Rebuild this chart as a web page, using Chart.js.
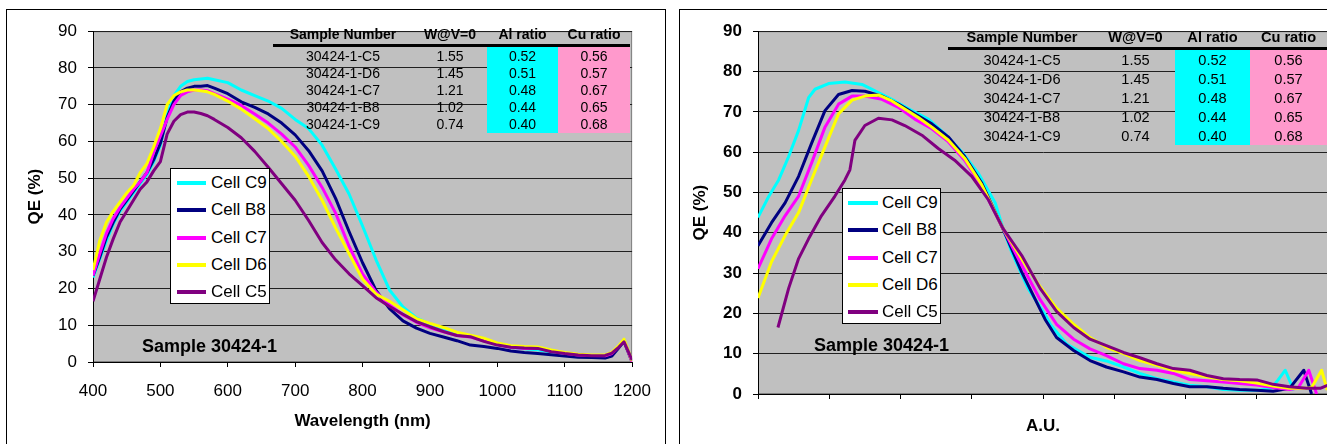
<!DOCTYPE html>
<html>
<head>
<meta charset="utf-8">
<script src="https://cdn.jsdelivr.net/npm/chart.js@4.4.0/dist/chart.umd.min.js"></script>
<style>
    html, body { margin: 0; padding: 0; background: #fff; }
    body { width: 1327px; height: 444px; overflow: hidden; position: relative; font-family: "Liberation Sans", Arial, sans-serif; color: #000; }
    .panel { position: absolute; top: 9px; height: 460px; border: 1px solid #000; box-sizing: border-box; overflow: hidden; background: #fff; }
    .panel canvas { position: absolute; left: 0; top: 0; }
    .leyenda { position: absolute; background: #fff; border: 1px solid #000; box-sizing: border-box; font-size: 17px; }
    .leyenda .item { position: relative; height: 27.3px; line-height: 27.3px; white-space: nowrap; }
    .leyenda .linea { position: absolute; height: 4px; top: 12px; }
    .leyenda .texto { position: absolute; }
    .tabla { position: absolute; display: grid; }
    .tabla div { display: flex; align-items: center; justify-content: center; white-space: nowrap; }
    .tabla .cab { font-weight: bold; }
    .tabla .sep { background: #000; grid-column: 1 / span 4; }
    .tabla .al { background: #00ffff; }
    .tabla .cu { background: #ff99cc; }
    .muestra { position: absolute; font-weight: bold; font-size: 18px; white-space: nowrap; }
</style>
</head>
<body>
<div class="panel" id="panel-izq" style="left:6px; width:660px;"><canvas id="grafica-longitud" width="658" height="440"></canvas></div>
<div class="panel" id="panel-der" style="left:679px; width:700px;"><canvas id="grafica-au" width="680" height="440"></canvas></div>

<div class="tabla" id="tabla-izq" style="left:273px; top:24px; grid-template-columns:140px 74px 71px 72px; grid-template-rows:20px 3px repeat(5, 17.2px); font-size:14px;"></div>
<div class="tabla" id="tabla-der" style="left:948px; top:26px; grid-template-columns:148px 79px 75px 77px; grid-template-rows:21px 3px repeat(5, 19px); font-size:14.6px;"></div>

<div class="leyenda" id="leyenda-izq" style="left:170px; top:168px; width:100px; height:136px;"></div>
<div class="leyenda" id="leyenda-der" style="left:842px; top:188px; width:99px; height:136px;"></div>

<div class="muestra" style="left:142px; top:336px;">Sample 30424-1</div>
<div class="muestra" style="left:814px; top:335px;">Sample 30424-1</div>

<script>
// series (legend order)
const seriesNames = ['Cell C9', 'Cell B8', 'Cell C7', 'Cell D6', 'Cell C5'];
const seriesColors = ['#00ffff', '#000080', '#ff00ff', '#ffff00', '#800080'];

// table next to the plots
const tableHeaders = ['Sample Number', 'W@V=0', 'Al ratio', 'Cu ratio'];
const sampleNumbers = ['30424-1-C5', '30424-1-D6', '30424-1-C7', '30424-1-B8', '30424-1-C9'];
const wAtV0 = ['1.55', '1.45', '1.21', '1.02', '0.74'];
const alRatios = ['0.52', '0.51', '0.48', '0.44', '0.40'];
const cuRatios = ['0.56', '0.57', '0.67', '0.65', '0.68'];

// left chart: QE vs wavelength
const wavelengths = [400, 410, 420, 430, 440, 450, 460, 470, 480, 490, 500, 510, 520, 530, 540, 550, 560, 570, 580,
    600, 620, 640, 660, 680, 700, 720, 740, 760, 780, 800, 820, 840, 860, 880, 900, 920, 940, 960, 980, 1000,
    1020, 1040, 1060, 1080, 1100, 1120, 1140, 1160, 1170, 1180, 1188, 1200];
const qeC9 = [23, 28, 33, 37.5, 41, 43.5, 46, 48.5, 51, 54.5, 59, 67, 72.5, 75, 76.3, 76.8, 77, 77.2, 76.8,
    76, 74, 72.5, 71, 69, 66, 63.5, 59, 52.5, 45.7, 37, 27.8, 19.6, 15, 12, 10.3, 9, 7.8, 7, 6, 4.8,
    4, 3.6, 3.3, 2.7, 2.2, 1.8, 1.5, 1.4, 2, 4, 5.8, 0.3];
const qeB8 = [23.5, 28.5, 34, 38, 41.5, 44, 46.5, 49, 51.5, 55, 59.5, 66.5, 71, 73.5, 74.5, 75, 75, 75.2, 74.5,
    73, 70.8, 69.3, 67.5, 65, 61.8, 57.5, 52, 44.5, 35.5, 27, 19.5, 14.5, 11.2, 9.2, 7.8, 6.8, 5.8, 4.6, 4.2, 3.7,
    3, 2.6, 2.3, 2, 1.6, 1.3, 1.2, 1.1, 1.6, 3.8, 5.6, 0];
const qeC7 = [23.5, 29.5, 35, 39, 42, 44.5, 47, 49, 51.5, 57, 61.5, 66, 70, 72.5, 73.5, 74, 74, 73.8, 73,
    71.5, 69.8, 67.5, 65, 62, 58.5, 53.5, 47.5, 40.5, 31.5, 24, 19, 15.5, 12.8, 10.8, 9.3, 8.2, 7.2, 6.8, 5.8, 4.8,
    4, 3.7, 3.7, 3, 2.4, 1.9, 1.8, 1.7, 2.3, 4.1, 5.9, 0];
const qeD6 = [25, 33, 38, 41, 43.5, 46, 48, 51.5, 54, 58.5, 63.5, 70, 72.5, 73.5, 74, 74, 73.8, 73.5, 72.8,
    71, 68.8, 66.2, 63.5, 60, 56, 50.5, 44, 36.5, 29.5, 22.5, 18.5, 16.5, 14.2, 11.8, 10.5, 9.4, 8.1, 7.3, 6.5, 5.2,
    4.4, 4.2, 4.1, 3.3, 2.6, 2.1, 1.9, 1.9, 2.6, 4.4, 6.2, 0.3];
const qeC5 = [16.5, 22.5, 28.5, 33.5, 38, 41, 44, 47, 49, 52, 54.5, 62, 65.5, 67.3, 68, 68, 67.6, 67, 66,
    63.8, 61, 57.3, 53, 48.5, 44, 38.5, 32.5, 27.8, 24, 20.8, 17.5, 15.1, 13, 11, 9.6, 8.3, 7.2, 6.9, 5.6, 4.6,
    4, 3.8, 3.7, 2.8, 2.3, 1.9, 1.7, 1.8, 2.4, 4, 5.5, 0.5];

// right chart: QE vs A.U. (each cell has its own x values)
const auC9 = [0, 0.15, 0.29, 0.43, 0.57, 0.71, 0.8, 0.99, 1.22, 1.46, 1.69, 1.92, 2.16, 2.39, 2.62, 2.86, 3.09, 3.33, 3.44, 3.56,
    3.79, 4.03, 4.1, 4.33, 4.66, 4.89, 5.13, 5.36, 5.6, 5.83, 6.06, 6.3, 6.53, 6.76, 7.0, 7.2, 7.3, 7.4, 7.52];
const auQeC9 = [43.8, 49, 53.1, 58.9, 65.4, 73.5, 75.6, 77, 77.4, 76.8, 74.8, 72.7, 70.3, 68.2, 64.6, 60.1, 54.8, 47.4, 41, 35.2,
    26.2, 19.7, 17.3, 12.4, 9.1, 8.2, 6.7, 5.1, 3.8, 3.0, 2.2, 1.8, 1.1, 0.9, 0.9, 1.4, 3.5, 5.9, 0.9];
const auB8 = [0, 0.19, 0.38, 0.57, 0.75, 0.94, 1.13, 1.32, 1.5, 1.74, 1.97, 2.2, 2.44, 2.67, 2.9, 3.14, 3.44, 3.7, 4.03, 4.19,
    4.43, 4.66, 4.89, 5.13, 5.36, 5.6, 5.83, 6.06, 6.3, 6.53, 6.76, 7.0, 7.23, 7.46, 7.66, 7.77];
const auQeB8 = [36.8, 42.5, 47.4, 54, 62.1, 70.3, 74.3, 75.3, 75.1, 73.9, 71.9, 69.5, 67, 63.8, 58.9, 52.3, 40.9, 30.3, 18.5, 14,
    10.8, 8.3, 6.7, 5.5, 4.2, 3.6, 2.6, 1.8, 1.8, 1.4, 1.1, 0.9, 0.7, 1.4, 5.9, 0];
const auC7 = [0, 0.19, 0.38, 0.57, 0.75, 0.94, 1.13, 1.32, 1.5, 1.74, 1.97, 2.2, 2.44, 2.67, 2.9, 3.14, 3.44, 3.7, 3.96, 4.19,
    4.43, 4.66, 4.89, 5.13, 5.36, 5.6, 5.83, 6.06, 6.3, 6.53, 6.76, 7.0, 7.23, 7.46, 7.58, 7.73, 7.84];
const auQeC7 = [31.1, 38.5, 44.2, 49.1, 57.2, 66.2, 71.9, 73.9, 73.9, 73.1, 71.1, 68.2, 65.8, 62.6, 58, 51.5, 41, 32, 23.4, 17.3,
    13.6, 11.2, 9.5, 7.5, 6.3, 5.9, 5.1, 3.6, 3.3, 3.0, 2.6, 2.2, 1.6, 1.1, 1.5, 5.9, 0];
const auD6 = [0, 0.19, 0.38, 0.57, 0.75, 0.94, 1.13, 1.32, 1.5, 1.69, 1.88, 2.06, 2.25, 2.44, 2.67, 2.9, 3.14, 3.44, 3.7, 3.96,
    4.19, 4.43, 4.66, 4.89, 5.13, 5.36, 5.6, 5.83, 6.06, 6.3, 6.53, 6.76, 7.0, 7.23, 7.46, 7.7, 7.77, 7.91, 7.99];
const auQeD6 = [23.8, 32.8, 39.3, 45, 53.1, 61.3, 69.5, 72.9, 73.9, 74.2, 72.7, 70.7, 68.6, 66.2, 63, 58.5, 51.9, 41, 33.6, 26.6,
    21.3, 17.3, 14, 11.6, 10, 8.3, 7.1, 5.9, 5.1, 4.3, 3.6, 3.3, 2.7, 2.0, 1.4, 1.4, 1.6, 5.9, 1.0];
const auC5 = [0.28, 0.43, 0.57, 0.71, 0.89, 1.08, 1.22, 1.29, 1.36, 1.5, 1.69, 1.88, 2.06, 2.3, 2.53, 2.76, 3.0, 3.23, 3.44, 3.7,
    3.96, 4.19, 4.43, 4.66, 4.89, 5.13, 5.36, 5.6, 5.83, 6.06, 6.3, 6.53, 6.76, 7.0, 7.23, 7.46, 7.7, 7.89, 8.0];
const auQeC5 = [16.5, 26.2, 33.6, 38.5, 44.2, 49.1, 53.1, 55.6, 62.9, 66.6, 68.4, 68, 66.6, 64.2, 60.9, 58, 54, 48.3, 41, 34.4,
    26.2, 20.5, 16.5, 13.6, 12, 10.3, 9.0, 7.5, 6.3, 5.9, 4.6, 3.8, 3.6, 3.5, 2.4, 1.8, 1.4, 1.4, 2.2];

const qeTicks = { min: 0, max: 90, step: 10 };

document.addEventListener('DOMContentLoaded', () => {
    Chart.defaults.font.family = '"Liberation Sans", Arial, sans-serif';
    Chart.defaults.color = '#000';

    // grey plot area with a thin grey frame, as in Excel
    const fondoGris = {
        id: 'fondoGris',
        beforeDraw(chart) {
            const { ctx, chartArea: a } = chart;
            ctx.save();
            ctx.fillStyle = '#c0c0c0';
            ctx.fillRect(a.left, a.top, a.right - a.left, a.bottom - a.top);
            ctx.strokeStyle = '#808080';
            ctx.lineWidth = 1;
            ctx.strokeRect(a.left + 0.5, a.top + 0.5, a.right - a.left - 1, a.bottom - a.top - 1);
            ctx.restore();
        }
    };

    function armarSeries(xs, ys) {
        return ys.map((ySerie, i) => ({
            label: seriesNames[i],
            data: ySerie.map((v, j) => ({ x: xs[i][j], y: v })),
            borderColor: seriesColors[i],
            backgroundColor: seriesColors[i],
            borderWidth: 3,
            pointRadius: 0,
            tension: 0,
            fill: false,
            borderJoinStyle: 'round',
            order: 5 - i // Cell C5 queda encima
        }));
    }

    function ejeQE(bold, ancho, padTitulo) {
        return {
            min: qeTicks.min, max: qeTicks.max,
            ticks: { stepSize: qeTicks.step, padding: 11, color: '#000', font: { size: 17, weight: bold ? 'bold' : 'normal' } },
            grid: { color: '#202020', tickColor: '#000', tickLength: 5, lineWidth: 1 },
            border: { color: '#000', width: 1 },
            title: { display: true, text: 'QE (%)', color: '#000', font: { size: 17, weight: 'bold' }, padding: { top: padTitulo, bottom: 0 } },
            afterFit: s => { s.width = ancho; }
        };
    }

    function graficarLongitud() {
        const xs = seriesNames.map(() => wavelengths);
        new Chart(document.getElementById('grafica-longitud').getContext('2d'), {
            type: 'line',
            data: { datasets: armarSeries(xs, [qeC9, qeB8, qeC7, qeD6, qeC5]) },
            options: {
                responsive: false,
                animation: false,
                layout: { padding: { left: 0, right: 32, top: 14, bottom: 0 } },
                plugins: { legend: { display: false }, tooltip: { enabled: false } },
                scales: {
                    x: {
                        type: 'linear', min: 400, max: 1200,
                        ticks: { stepSize: 100, padding: 14, maxRotation: 0, autoSkip: false, color: '#000', font: { size: 17 }, callback: v => String(v) },
                        grid: { drawOnChartArea: false, color: '#000', tickLength: 5 },
                        border: { color: '#000', width: 1 },
                        title: { display: true, text: 'Wavelength (nm)', color: '#000', font: { size: 17, weight: 'bold' }, padding: { top: 0, bottom: 18 } },
                        afterFit: s => { s.height = 88; }
                    },
                    y: ejeQE(false, 86, 18)
                }
            },
            plugins: [fondoGris]
        });
    }

    function graficarAU() {
        new Chart(document.getElementById('grafica-au').getContext('2d'), {
            type: 'line',
            data: { datasets: armarSeries([auC9, auB8, auC7, auD6, auC5], [auQeC9, auQeB8, auQeC7, auQeD6, auQeC5]) },
            options: {
                responsive: false,
                animation: false,
                layout: { padding: { left: 0, right: 32, top: 16, bottom: 0 } },
                plugins: { legend: { display: false }, tooltip: { enabled: false } },
                scales: {
                    x: {
                        type: 'linear', min: 0, max: 8,
                        ticks: { stepSize: 1, display: false },
                        grid: { drawOnChartArea: false, color: '#000', tickLength: 5 },
                        border: { color: '#000', width: 1 },
                        title: { display: true, text: 'A.U.', color: '#000', font: { size: 17, weight: 'bold' }, padding: { top: 0, bottom: 13 } },
                        afterFit: s => { s.height = 56; }
                    },
                    y: ejeQE(true, 78, 10)
                }
            },
            plugins: [fondoGris]
        });
    }

    function armarLeyenda(id, lineaIzq, lineaAncho, textoIzq) {
        const caja = document.getElementById(id);
        seriesNames.forEach((nombre, i) => {
            const fila = document.createElement('div');
            fila.className = 'item';
            fila.innerHTML = `<span class="linea" style="left:${lineaIzq}px;width:${lineaAncho}px;background:${seriesColors[i]}"></span>` +
                `<span class="texto" style="left:${textoIzq}px">${nombre}</span>`;
            caja.appendChild(fila);
        });
    }

    function armarTabla(id) {
        const tabla = document.getElementById(id);
        const celdas = [];
        tableHeaders.forEach(h => celdas.push(`<div class="cab">${h}</div>`));
        celdas.push('<div class="sep"></div>');
        sampleNumbers.forEach((s, i) => {
            celdas.push(`<div>${s}</div>`);
            celdas.push(`<div>${wAtV0[i]}</div>`);
            celdas.push(`<div class="al">${alRatios[i]}</div>`);
            celdas.push(`<div class="cu">${cuRatios[i]}</div>`);
        });
        tabla.innerHTML = celdas.join('');
    }

    graficarLongitud();
    graficarAU();
    armarLeyenda('leyenda-izq', 6, 29, 40);
    armarLeyenda('leyenda-der', 5, 30, 39);
    armarTabla('tabla-izq');
    armarTabla('tabla-der');
});
</script>
</body>
</html>
